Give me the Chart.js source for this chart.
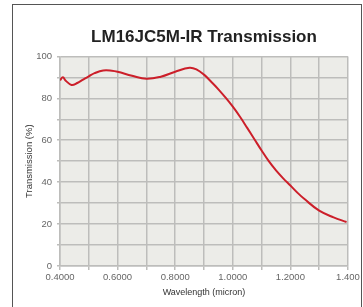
<!DOCTYPE html>
<html>
<head>
<meta charset="utf-8">
<script src="https://cdn.jsdelivr.net/npm/chart.js@4.4.0/dist/chart.umd.min.js"></script>
<style>
    html, body { margin: 0; padding: 0; background: #fff; }
    #wrap { position: relative; width: 363px; height: 307px; overflow: hidden; }
    #frame {
        position: absolute; left: 12px; top: 4px; width: 348px; height: 320px;
        border: 1.5px solid #555; pointer-events: none;
    }
</style>
</head>
<body>
<div id="wrap">
    <canvas id="transChart" width="363" height="307"></canvas>
    <div id="frame"></div>
</div>
<script>
// Wavelength (micron) and transmission (%)
const wavelengths = [0.400, 0.410, 0.420, 0.440, 0.460, 0.480, 0.500, 0.520, 0.550, 0.580,
    0.600, 0.650, 0.700, 0.750, 0.800, 0.850, 0.875, 0.900, 0.925, 0.950,
    0.975, 1.000, 1.025, 1.050, 1.075, 1.100, 1.125, 1.150, 1.175, 1.200,
    1.225, 1.250, 1.300, 1.350, 1.395];
const transmission = [88.6, 90.0, 88.4, 86.4, 87.3, 88.9, 90.5, 92.0, 93.3, 93.2,
    92.7, 90.8, 89.3, 90.3, 92.7, 94.6, 93.7, 91.3, 87.9, 84.3,
    80.3, 76.0, 71.2, 65.9, 60.5, 55.1, 50.0, 45.6, 41.8, 38.4,
    34.9, 31.8, 26.4, 23.2, 21.0];
const xTickLabels = { '0.4': '0.4000', '0.6': '0.6000', '0.8': '0.8000', '1': '1.0000', '1.2': '1.2000', '1.4': '1.400' };
const yTickLabels = [0, 20, 40, 60, 80, 100];

const gridColor = '#bdbdbb';
const fontFamily = 'Liberation Sans, Arial, sans-serif';
const tickFont = { family: fontFamily, size: 9.5 };

// Plot area background
const plotBackground = {
    id: 'plotBackground',
    beforeDraw(chart) {
        const { ctx, chartArea: a } = chart;
        ctx.save();
        ctx.fillStyle = '#ececE8';
        ctx.fillRect(a.left, a.top, a.right - a.left, a.bottom - a.top);
        ctx.restore();
    }
};

new Chart(document.getElementById('transChart'), {
    type: 'line',
    data: {
        datasets: [{
            data: wavelengths.map((w, i) => ({ x: w, y: transmission[i] })),
            borderColor: '#cc1f2a',
            borderWidth: 2,
            pointRadius: 0,
            fill: false,
            tension: 0.4
        }]
    },
    options: {
        responsive: false,
        animation: false,
        layout: { padding: { left: 0, right: 15, top: 0, bottom: 0 } },
        plugins: {
            legend: { display: false },
            tooltip: { enabled: false },
            title: {
                display: true,
                text: 'LM16JC5M-IR Transmission',
                fullSize: false,
                color: '#222',
                font: { family: fontFamily, size: 17, weight: 'bold' },
                padding: { top: 27, bottom: 9 }
            }
        },
        scales: {
            x: {
                type: 'linear',
                min: 0.4,
                max: 1.4,
                ticks: {
                    stepSize: 0.1,
                    color: '#666',
                    font: tickFont,
                    padding: 2,
                    maxRotation: 0,
                    autoSkip: false,
                    callback: v => xTickLabels[String(Math.round(v * 10) / 10)] || ''
                },
                grid: { color: gridColor, lineWidth: 1.5, tickLength: 4 },
                border: { color: gridColor, width: 1.5 },
                title: {
                    display: true,
                    text: 'Wavelength (micron)',
                    color: '#333',
                    font: { family: fontFamily, size: 9 },
                    padding: { top: 0, bottom: 9 }
                },
                afterFit(scale) { scale.height = 41; }
            },
            y: {
                min: 0,
                max: 100,
                ticks: {
                    stepSize: 10,
                    color: '#666',
                    font: tickFont,
                    padding: 5,
                    autoSkip: false,
                    callback: v => yTickLabels.includes(v) ? String(v) : ''
                },
                grid: { color: gridColor, lineWidth: 1.5, tickLength: 3 },
                border: { color: gridColor, width: 1.5 },
                title: {
                    display: true,
                    text: 'Transmission (%)',
                    color: '#333',
                    font: { family: fontFamily, size: 9.5 },
                    padding: { top: 24, bottom: 0 }
                },
                afterFit(scale) { scale.width = 60; }
            }
        }
    },
    plugins: [plotBackground]
});
</script>
</body>
</html>
